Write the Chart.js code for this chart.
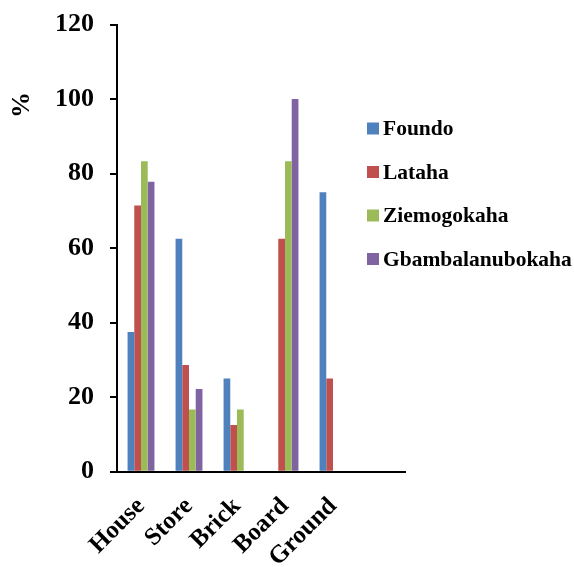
<!DOCTYPE html>
<html>
<head>
<meta charset="utf-8">
<script src="https://cdn.jsdelivr.net/npm/chart.js@4/dist/chart.umd.min.js"></script>
<style>
  html, body { margin: 0; padding: 0; background: #fff; }
  #wrap { width: 574px; height: 567px; }
</style>
</head>
<body>
<div id="wrap"><canvas id="c" width="574" height="567"></canvas></div>
<script>
const categories = ['House', 'Store', 'Brick', 'Board', 'Ground', ''];
const seriesNames = ['Foundo', 'Lataha', 'Ziemogokaha', 'Gbambalanubokaha'];
const foundo = [37.5, 62.5, 25, 0, 75, null];
const lataha = [71.4, 28.6, 12.5, 62.5, 25, null];
const ziemogokaha = [83.3, 16.7, 16.7, 83.3, 0, null];
const gbambalanubokaha = [77.8, 22.2, 0, 100, 0, null];
const colors = ['#4F81BD', '#C0504D', '#9BBB59', '#8064A2'];
const yTicks = [0, 20, 40, 60, 80, 100, 120];
const yTitle = '%';

const FONT = "'Liberation Serif', 'Times New Roman', serif";

const legendPlugin = {
  id: 'sideLegend',
  afterDraw(chart) {
    const ctx = chart.ctx;
    ctx.save();
    ctx.font = 'bold 21.5px ' + FONT;
    ctx.textBaseline = 'middle';
    ctx.textAlign = 'left';
    chart.data.datasets.forEach((ds, i) => {
      const cy = 128.5 + i * 43.5;
      ctx.fillStyle = ds.backgroundColor;
      ctx.fillRect(367, cy - 6, 12, 12);
      ctx.fillStyle = '#000';
      ctx.fillText(ds.label, 383, cy + 1);
    });
    // y axis title
    ctx.translate(22, 105);
    ctx.rotate(-Math.PI / 2);
    ctx.font = 'bold 26px ' + FONT;
    ctx.textAlign = 'center';
    ctx.textBaseline = 'middle';
    ctx.fillStyle = '#000';
    ctx.fillText(yTitle, 0, 0);
    ctx.restore();
  }
};

const seriesData = [foundo, lataha, ziemogokaha, gbambalanubokaha];

new Chart(document.getElementById('c'), {
  type: 'bar',
  data: {
    labels: categories,
    datasets: seriesNames.map((n, i) => ({
      label: n,
      data: seriesData[i],
      backgroundColor: colors[i],
      borderWidth: 0,
      categoryPercentage: 0.56,
      barPercentage: 1.0
    }))
  },
  options: {
    responsive: false,
    animation: false,
    devicePixelRatio: 1,
    layout: { padding: { left: 0, right: 169, top: 24.5, bottom: 0 } },
    plugins: {
      legend: { display: false },
      tooltip: { enabled: false }
    },
    scales: {
      x: {
        grid: { display: false, drawTicks: false },
        border: { display: true, color: '#000', width: 2 },
        ticks: {
          color: '#000',
          font: { family: FONT, size: 25, weight: 'bold' },
          maxRotation: 45,
          minRotation: 45,
          padding: 20,
          autoSkip: false
        },
        afterFit(scale) {
          scale.height = 567 - 471.7;
          scale.paddingTop = 0; scale.paddingBottom = 0;
          scale.paddingLeft = 0; scale.paddingRight = 0;
        }
      },
      y: {
        min: 0,
        max: 120,
        afterBuildTicks(scale) { scale.ticks = yTicks.map(v => ({ value: v })); },
        grid: { drawOnChartArea: false, drawTicks: true, tickLength: 7, color: '#000', lineWidth: 2 },
        border: { display: true, color: '#000', width: 2 },
        ticks: {
          color: '#000',
          font: { family: FONT, size: 26, weight: 'bold' },
          padding: 16
        },
        afterFit(scale) {
          scale.width = 117;
          scale.paddingTop = 0; scale.paddingBottom = 0;
        }
      }
    }
  },
  plugins: [legendPlugin]
});
</script>
</body>
</html>
